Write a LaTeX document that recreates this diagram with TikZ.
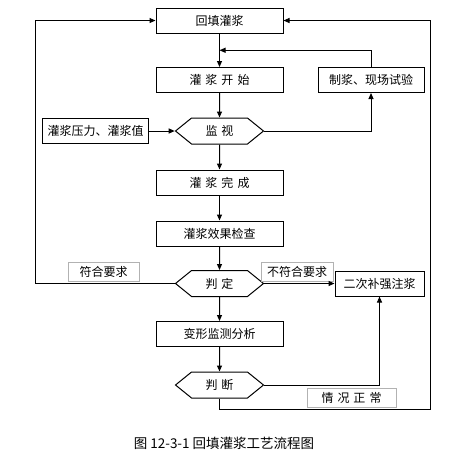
\documentclass[tikz,border=0pt]{standalone}
\usepackage{fontspec}
\setmainfont{Noto Sans CJK SC}
\usepackage{tikz}
\usetikzlibrary{arrows.meta,shapes.symbols,calc}

\tikzset{
  box/.style={draw, line width=1pt, minimum height=25pt, inner sep=0pt},
  hexa/.style={draw, line width=1pt, shape=signal, signal to=west and east,
    signal pointer angle=78, minimum width=88pt, minimum height=26pt, inner sep=0pt},
  tag/.style={draw=black!30, line width=0.8pt, minimum height=19pt, inner sep=0pt},
  arr/.style={-{Triangle[length=6pt,width=5pt]}, line width=1pt}
}

\begin{document}
\begin{tikzpicture}[x=1pt,y=-1pt,font=\fontsize{12}{14}\selectfont]
        \useasboundingbox (0,0) rectangle (471,467);
        \node[box,minimum width=127pt] (top) at (219.5,20.5) {回填灌浆};
        \node[box,minimum width=127pt] (start) at (219.5,80) {灌\,\,浆\,\,开\,\,始};
        \node[box,minimum width=106pt] (prep) at (371,80) {制浆、现场试验};
        \node[hexa] (monitor) at (219.5,131) {监\,\,视};
        \node[box,minimum width=106pt] (pressure) at (95.5,131) {灌浆压力、灌浆值};
        \node[box,minimum width=127pt] (done) at (219.5,182.5) {灌\,\,浆\,\,完\,\,成};
        \node[box,minimum width=127pt] (check) at (219.5,233.5) {灌浆效果检查};
        \node[hexa] (judge) at (219.5,283.5) {判\,\,定};
        \node[tag,minimum width=71pt] (ok) at (103.5,272) {符合要求};
        \node[tag,minimum width=72pt] (nok) at (297,271.5) {不符合要求};
        \node[box,minimum width=89pt] (second) at (379.5,283.5) {二次补强注浆};
        \node[box,minimum width=127pt] (deform) at (219.5,334) {变形监测分析};
        \node[hexa] (judge2) at (219.5,385) {判\,\,断};
        \node[tag,minimum width=89pt] (normal) at (351.5,397.5) {情\,\,况\,\,正\,\,常};
        \node[font=\fontsize{13.5}{16}\selectfont] (caption) at (224,443) {图 12-3-1 回填灌浆工艺流程图};
        \coordinate (fb) at ($(top.south)!0.5!(start.north)$);
        \coordinate (lft) at (35,283.5);
        \coordinate (rb) at (430,409);

        \draw[arr] (top) -- (start);
        \draw[arr] (prep.north) |- (fb);
        \draw[arr] (start) -- (monitor);
        \draw[arr] (pressure) -- (monitor.west);
        \draw[arr] (monitor.east) -| (prep.south);
        \draw[arr] (monitor) -- (done);
        \draw[arr] (done) -- (check);
        \draw[arr] (check) -- (judge);
        \draw[arr] (judge.west) -- (lft) |- (top.west);
        \draw[arr] (judge.east) -- (second.west);
        \draw[arr] (judge) -- (deform);
        \draw[arr] (deform) -- (judge2);
        \draw[arr] (judge2.east) -| (second.south);
        \draw[arr] (judge2.south) |- (rb) |- (top.east);
    \end{tikzpicture}
\end{document}
